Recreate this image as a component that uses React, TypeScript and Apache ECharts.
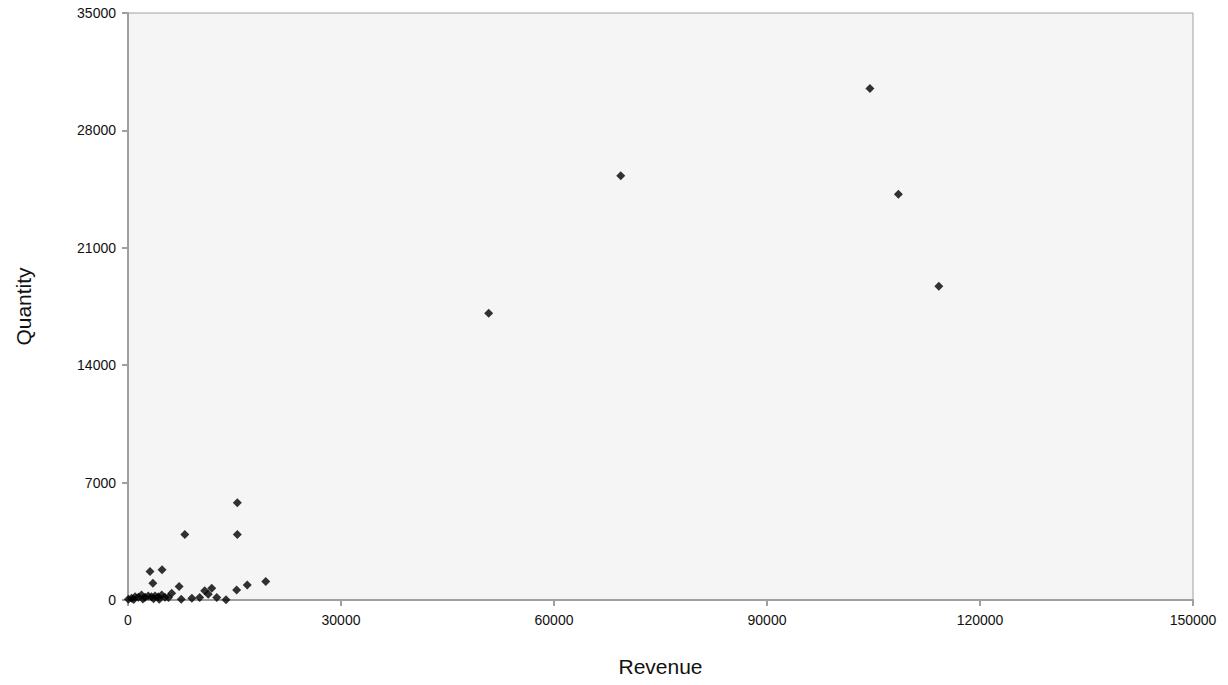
import React, { useEffect, useRef } from "react";
import * as echarts from "echarts";

const revenue = [
  104500, 69400, 108500, 114200, 50800, 15400, 8000, 15400,
  3100, 4800, 3500, 7200, 19400, 16800, 15300, 11800, 10800, 11300, 12500, 13800,
  10100, 9000, 7500, 6150, 5700,
  50, 500, 1000, 1450, 1900, 2400, 2850, 3300, 3800, 4250, 4750, 5200, 800, 2100, 3600, 4400,
];
const quantity = [
  30500, 25300, 24200, 18700, 17100, 5800, 3900, 3900,
  1700, 1800, 1000, 800, 1100, 900, 600, 700, 550, 350, 150, 20,
  150, 100, 40, 400, 150,
  40, 100, 200, 160, 300, 160, 240, 200, 240, 200, 300, 160, 30, 60, 80, 50,
];
const xTicks = { min: 0, max: 150000, interval: 30000 };
const yTicks = { min: 0, max: 35000, interval: 7000 };

export default function App() {
  const ref = useRef<HTMLDivElement>(null);
  useEffect(() => {
    if (!ref.current) return;
    const chart = echarts.init(ref.current, null, { renderer: "svg" });
    const data = revenue.map((r, i) => [r, quantity[i]]);
    const font = "'Liberation Sans', Arial, Helvetica, sans-serif";
    const plain = (v: number) => String(v);
    chart.setOption({
      animation: false,
      backgroundColor: "#ffffff",
      grid: {
        left: 128,
        right: 35,
        top: 13,
        bottom: 85,
        show: true,
        backgroundColor: "#f5f5f5",
        borderColor: "#a0a0a0",
        borderWidth: 1,
      },
      xAxis: {
        type: "value",
        min: xTicks.min,
        max: xTicks.max,
        interval: xTicks.interval,
        name: "Revenue",
        nameLocation: "middle",
        nameGap: 56,
        nameTextStyle: { fontFamily: font, fontSize: 21, color: "#111" },
        axisLine: { show: true, lineStyle: { color: "#a0a0a0", width: 2 } },
        axisTick: { show: true, length: 6, lineStyle: { color: "#a0a0a0", width: 2 } },
        axisLabel: { fontFamily: font, fontSize: 14, color: "#111", margin: 13, formatter: plain },
        splitLine: { show: false },
      },
      yAxis: {
        type: "value",
        min: yTicks.min,
        max: yTicks.max,
        interval: yTicks.interval,
        name: "Quantity",
        nameLocation: "middle",
        nameGap: 94,
        nameTextStyle: { fontFamily: font, fontSize: 21, color: "#111" },
        axisLine: { show: true, lineStyle: { color: "#a0a0a0", width: 2 } },
        axisTick: { show: true, length: 6, lineStyle: { color: "#a0a0a0", width: 2 } },
        axisLabel: { fontFamily: font, fontSize: 14, color: "#111", margin: 12, formatter: plain },
        splitLine: { show: false },
      },
      series: [
        {
          type: "scatter",
          data,
          symbol: "diamond",
          symbolSize: 9,
          itemStyle: { color: "#000000" },
        },
      ],
    });
    return () => chart.dispose();
  }, []);
  return (
    <div
      ref={ref}
      style={{ position: "fixed", left: 0, top: 0, width: 1228, height: 685 }}
    />
  );
}
